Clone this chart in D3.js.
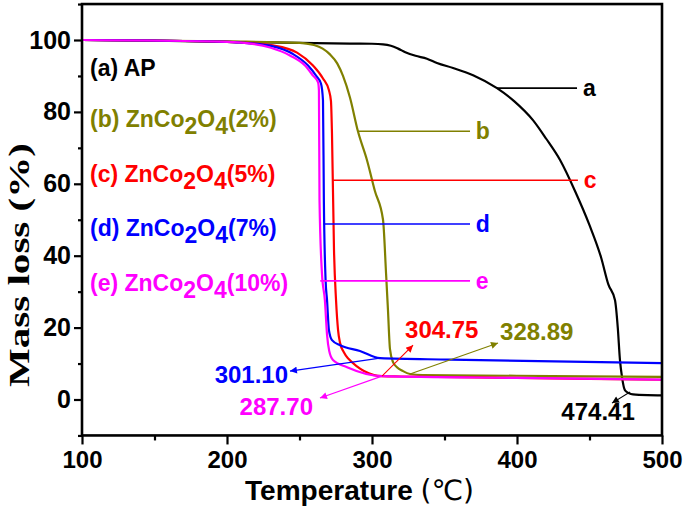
<!DOCTYPE html>
<html><head><meta charset="utf-8">
<script src="https://cdn.jsdelivr.net/npm/d3@7"></script>
<style>
html,body{margin:0;padding:0;background:#fff;}
svg{display:block;}
</style></head>
<body>
<svg id="c" width="685" height="508"></svg>
<script>
// ---------- data ----------
const tempA = [100,150,200,250,284.8,300,307.6,313,318,323,330,337.9,344.8,355.9,369.7,386.2,398,411,420,429.7,440,450,458,463,467.6,469.5,471,472.5,474.4,477,480,490,500];
const massA = [100,99.8,99.5,99.2,99.0,98.95,98.8,98.4,97.6,96.6,95.6,94.8,93.6,92.2,90.2,86.6,83.0,77.7,72.6,66.6,58,48.5,39.5,32,27.6,20,11,6,2.6,1.8,1.4,1.2,1.15];

const tempB = [100,200,250,255,260,266,271,276,280,284.8,290.3,296.6,302,307.6,309.7,311,312.4,314.5,317.2,321.4,326.2,335,400,500];
const massB = [100,99.6,99.2,99.0,98.6,97.6,96,93.5,90,84,74.6,66.5,58,50,35,25,14,10.4,9,7.9,7.1,6.8,6.6,6.3];

const tempC = [100,200,209,231.7,248.3,259.3,266.2,270.3,271.7,272.4,273.8,275.2,276.6,278,280.5,283.4,306.9,320,400,500];
const massC = [100,99.5,99.3,98.5,96.5,92.9,89.3,86,83,74,41.5,27.6,19.3,15.7,13.2,11.5,6.5,6.4,6.0,5.5];

const tempD = [100,200,209,231,245.5,255.9,261.4,264.8,266.2,266.8,268,269,270.3,272.4,278,291.7,305.5,353.8,500];
const massD = [100,99.5,99.3,98.3,96.1,92.9,90.1,87.9,83.2,55.4,33.2,27.6,19.3,16.5,15.1,13.5,11.5,11.1,10.1];

const tempE = [100,200,209,229.7,243.4,253.8,259.3,262.8,263.4,263.8,265.5,267.5,269,270.5,273.1,282.8,306.9,400,500];
const massE = [100,99.5,99.3,97.9,95.7,92.9,90.1,88.2,86,55.4,35,27.6,18,13.5,11,9,6.5,6.0,5.55];

const seriesNames = ["a","b","c","d","e"];
const legendLabels = [
  ["(a) AP"],
  ["(b) ZnCo","2","O","4","(2%)"],
  ["(c) ZnCo","2","O","4","(5%)"],
  ["(d) ZnCo","2","O","4","(7%)"],
  ["(e) ZnCo","2","O","4","(10%)"]
];
const xTicks = [100,200,300,400,500];
const xMinor = [150,250,350,450];
const yTicks = [0,20,40,60,80,100];
const yMinor = [-10,10,30,50,70,90,110];

// curve label leader lines: mass level, T start, T end, T of letter
const leaderMass  = [86.6, 74.6, 61, 48.8, 33];
const leaderStart = [386.2, 290.3, 273.3, 266.7, 264.3];
const leaderEnd   = [441.4, 367.6, 442, 367.6, 367.6];
const leaderText  = [445.5, 371.5, 446, 371.5, 371.5];

// temperature callouts
const calloutText  = ["474.41","328.89","304.75","301.10","287.70"];
const calloutFrom  = [[477.9,2.1],[326.2,7.1],[306.9,6.5],[305.5,11.5],[306.9,6.5]];
const calloutTo    = [[465.5,-1.0],[386.9,15.7],[328.3,15.1],[243.4,7.9],[264.1,0.4]];
const calloutPos   = [[455.9,-5.7],[388.3,16.5],[322.8,17.1],[242.1,4.6],[259.3,-4.3]];
const calloutAnchor= ["middle","start","start","end","end"];

const colors = ["#000000","#808000","#ff0000","#0000ff","#ff00ff"];

// ---------- chart ----------
const SANS = "Liberation Sans, Arial, sans-serif";
const svg = d3.select("#c");
const x = d3.scaleLinear().domain([100,500]).range([82,662]);
const y = d3.scaleLinear().domain([-10,110]).range([435.45,4.05]);

const defs = svg.append("defs");
colors.forEach((c,i)=>{
  defs.append("marker").attr("id","ah"+i).attr("viewBox","0 0 10 10")
    .attr("refX",10).attr("refY",5).attr("markerWidth",9).attr("markerHeight",7)
    .attr("markerUnits","userSpaceOnUse").attr("orient","auto")
    .append("path").attr("d","M0,0L10,5L0,10Z").attr("fill",c);
});

// axes
const gx = svg.append("g").attr("transform",`translate(0,${y(-10)})`);
gx.call(d3.axisBottom(x).tickValues(xTicks).tickSize(9).tickPadding(7).tickFormat(d3.format("d")));
const gxm = svg.append("g").attr("transform",`translate(0,${y(-10)})`);
gxm.call(d3.axisBottom(x).tickValues(xMinor).tickSize(5).tickFormat(""));
const gy = svg.append("g").attr("transform",`translate(${x(100)},0)`);
gy.call(d3.axisLeft(y).tickValues(yTicks).tickSize(8).tickPadding(3).tickFormat(d3.format("d")));
const gym = svg.append("g").attr("transform",`translate(${x(100)},0)`);
gym.call(d3.axisLeft(y).tickValues(yMinor).tickSize(4).tickFormat(""));
[gx,gxm,gy,gym].forEach(g=>{
  g.select(".domain").remove();
  g.selectAll(".tick line").attr("stroke","#000").attr("stroke-width",2.2);
});
gx.selectAll(".tick text").attr("font-size",24).attr("font-family",SANS).attr("font-weight","bold").attr("fill","#000");
gy.selectAll(".tick text").attr("font-size",25).attr("font-family",SANS).attr("font-weight","bold").attr("fill","#000");

// curves
const temps = [tempA,tempB,tempC,tempD,tempE];
const masses = [massA,massB,massC,massD,massE];
const line = d3.line().x(d=>x(d[0])).y(d=>y(d[1])).curve(d3.curveMonotoneX);
temps.forEach((t,i)=>{
  const pts = t.map((v,j)=>[v,masses[i][j]]);
  svg.append("path").attr("d",line(pts)).attr("fill","none")
    .attr("stroke",colors[i]).attr("stroke-width",2.2).attr("stroke-linejoin","round");
});

// frame
svg.append("rect").attr("x",x(100)).attr("y",y(110)).attr("width",x(500)-x(100)).attr("height",y(-10)-y(110))
  .attr("fill","none").attr("stroke","#000").attr("stroke-width",2.6);

// leader lines + letters
seriesNames.forEach((s,i)=>{
  svg.append("line").attr("x1",x(leaderStart[i])).attr("x2",x(leaderEnd[i]))
    .attr("y1",y(leaderMass[i])).attr("y2",y(leaderMass[i]))
    .attr("stroke",colors[i]).attr("stroke-width",1.6);
  svg.append("text").attr("x",x(leaderText[i])).attr("y",y(leaderMass[i])).attr("dy","0.35em")
    .attr("font-family",SANS).attr("font-weight","bold")
    .attr("font-size",23).attr("fill",colors[i]).text(s);
});

// legend
const legBase = [76,127,182,236,291];
legendLabels.forEach((parts,i)=>{
  const t = svg.append("text").attr("x",90).attr("y",legBase[i]).attr("font-size",23)
    .attr("font-family",SANS).attr("font-weight","bold").attr("fill",colors[i]);
  parts.forEach((p,j)=>{
    const ts = t.append("tspan").text(p);
    if(j===1||j===3) ts.attr("dy",7);
    else if(j===2||j===4) ts.attr("dy",-7);
  });
});

// callouts
calloutText.forEach((txt,k)=>{
  const col = colors[k];
  svg.append("line").attr("x1",x(calloutFrom[k][0])).attr("y1",y(calloutFrom[k][1]))
    .attr("x2",x(calloutTo[k][0])).attr("y2",y(calloutTo[k][1]))
    .attr("stroke",col).attr("stroke-width",1.1).attr("marker-end",`url(#ah${k})`);
  svg.append("text").attr("x",x(calloutPos[k][0])).attr("y",y(calloutPos[k][1]))
    .attr("text-anchor",calloutAnchor[k]).attr("font-size",24)
    .attr("font-family",SANS).attr("font-weight","bold").attr("fill",col).text(txt);
});

// axis titles
const xt = svg.append("text").attr("x",245).attr("y",500).attr("font-size",28).attr("fill","#000")
  .attr("font-family",SANS).attr("font-weight","bold")
  .attr("textLength",229).attr("lengthAdjust","spacingAndGlyphs");
xt.append("tspan").text("Temperature ");
xt.append("tspan").attr("font-weight","normal").attr("font-family","DejaVu Sans, sans-serif").text("(℃)");

svg.append("text").attr("transform","translate(29,265) rotate(-90)")
  .attr("text-anchor","middle").attr("font-size",30)
  .attr("font-family","Liberation Serif, Times New Roman, serif").attr("font-weight","bold")
  .attr("fill","#000")
  .attr("textLength",244).attr("lengthAdjust","spacingAndGlyphs")
  .text("Mass loss  (%)");
</script>
</body></html>
